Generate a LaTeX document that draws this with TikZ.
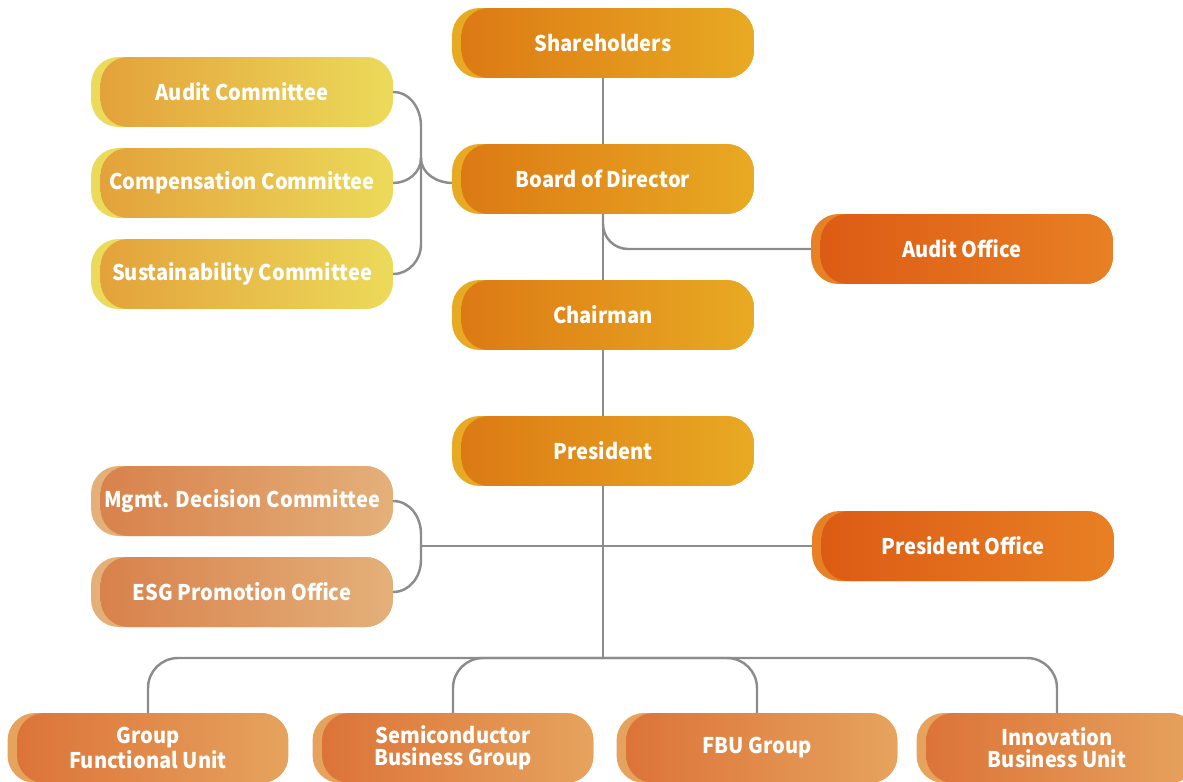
\documentclass[tikz,border=0pt]{standalone}
\usepackage{fontspec}
\setmainfont{Noto Sans CJK SC}[FakeStretch=0.93]
\definecolor{linegray}{HTML}{8C8C8C}
\definecolor{topL}{HTML}{DC7814}\definecolor{topR}{HTML}{E8AA23}
\definecolor{comL}{HTML}{E3A03A}\definecolor{comR}{HTML}{ECDA5A}
\definecolor{offL}{HTML}{DC5A14}\definecolor{offR}{HTML}{E88024}
\definecolor{mgtL}{HTML}{D8804A}\definecolor{mgtR}{HTML}{E4B07A}
\definecolor{unitL}{HTML}{DC7237}\definecolor{unitR}{HTML}{E6A35E}
\begin{document}
\begin{tikzpicture}[x=0.02cm,y=-0.02cm,line join=round,line cap=round,
	box/.style={rounded corners=0.55cm,minimum width=6.04cm,minimum height=1.4cm,inner sep=0pt,
		align=center,text=white,font=\fontsize{12.3}{12.6}\selectfont\bfseries},
	shade2/.style 2 args={fill=#2,path picture={\shade[left color=#1,right color=#2,rounded corners=0.55cm]
		([xshift=0.19cm]path picture bounding box.south west) rectangle (path picture bounding box.north east);}},
	topbox/.style={box,shade2={topL}{topR}},
	combox/.style={box,shade2={comL}{comR}},
	offbox/.style={box,shade2={offL}{offR}},
	mgtbox/.style={box,shade2={mgtL}{mgtR}},
	unitbox/.style={box,minimum width=5.62cm,shade2={unitL}{unitR}},
	link/.style={draw=linegray,line width=1.4pt}]
	\useasboundingbox (0,0) rectangle (1183,781);
	% connectors first, boxes on top
	\coordinate (cj) at (421,158);
	\coordinate (mj) at (421,546);
	\coordinate (bus) at (603,658);
	\draw[link] (603,43) -- (bus);
	\draw[link,rounded corners=0.5cm] (603,214) |- (811,249);
	\draw[link] (393,92) to[out=0,in=90] (421,126) -- (421,244) to[out=-90,in=0] (393,274);
	\draw[link] (393,183) to[out=0,in=-90] (cj) to[out=-90,in=180] (453,183);
	\draw[link] (393,501) to[out=0,in=90] (421,534) -- (421,560) to[out=-90,in=0] (393,592);
	\draw[link] (mj) -- (812,546);
	\draw[link,rounded corners=0.6cm] (148,713) |- (bus) -| (1057,713);
	\draw[link,rounded corners=0.6cm] (453,713) |- (bus) -| (757,713);
	% main line
	\node[topbox] (sh) at (603,43) {Shareholders};
	\node[topbox] (bd) at (603,179) {Board of Director};
	\node[topbox] (ch) at (603,315) {Chairman};
	\node[topbox] (pr) at (603,451) {President};
	% committees and offices
	\node[combox] (ac) at (242,92) {Audit Committee};
	\node[combox] (cc) at (242,183) {Compensation Committee};
	\node[combox] (sc) at (242,274) {Sustainability Committee};
	\node[offbox] (ao) at (962,249) {Audit Office};
	\node[mgtbox] (md) at (242,501) {Mgmt. Decision Committee};
	\node[mgtbox] (ep) at (242,592) {ESG Promotion Office};
	\node[offbox] (po) at (963,546) {President Office};
	% units
	\node[unitbox] (gf) at (148,748) {Group\\Functional Unit};
	\node[unitbox] (sb) at (453,748) {Semiconductor\\Business Group};
	\node[unitbox] (fb) at (757,748) {FBU Group};
	\node[unitbox] (ib) at (1057,748) {Innovation\\Business Unit};
\end{tikzpicture}
\end{document}
